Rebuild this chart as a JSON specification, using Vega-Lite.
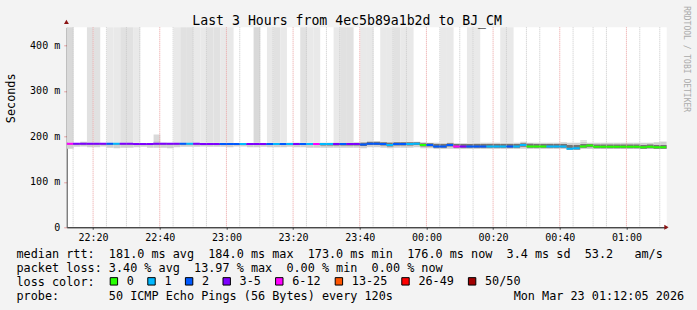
{
  "$schema": "https://vega.github.io/schema/vega-lite/v6.json",
  "width": 600,
  "height": 200,
  "autosize": {"type": "none"},
  "padding": {"left": 66.7, "top": 27.3, "right": 30.3, "bottom": 82.7},
  "background": "#f3f3f3",
  "config": {
    "view": {"fill": "#ffffff", "stroke": null},
    "font": "DejaVu Sans Mono"
  },
  "title": {
    "text": "Last 3 Hours from 4ec5b89a1b2d to BJ_CM",
    "anchor": "start",
    "frame": "group",
    "dx": 125.6,
    "dy": 32,
    "font": "DejaVu Sans Mono",
    "fontSize": 13.2,
    "fontWeight": "normal",
    "color": "#000000",
    "baseline": "alphabetic",
    "offset": 0
  },
  "data": {
    "values": [
      {"t":"2026-03-22 22:12","med":184,"loss":"6-12","lo":173,"hi":186,"ilo":182,"ihi":185,"max":1000,"tail":3},
      {"t":"2026-03-22 22:14","med":184,"loss":"3-5","lo":177,"hi":185,"ilo":182,"ihi":185,"max":185,"tail":0},
      {"t":"2026-03-22 22:16","med":184,"loss":"3-5","lo":178,"hi":188,"ilo":182,"ihi":185,"max":188,"tail":0},
      {"t":"2026-03-22 22:18","med":184,"loss":"3-5","lo":176,"hi":186,"ilo":182,"ihi":185,"max":1000,"tail":2},
      {"t":"2026-03-22 22:20","med":184,"loss":"3-5","lo":176,"hi":186,"ilo":182,"ihi":185,"max":1000,"tail":2},
      {"t":"2026-03-22 22:22","med":184,"loss":"3-5","lo":178,"hi":185,"ilo":182,"ihi":185,"max":185,"tail":0},
      {"t":"2026-03-22 22:24","med":184,"loss":"2","lo":175,"hi":186,"ilo":182,"ihi":185,"max":1000,"tail":1},
      {"t":"2026-03-22 22:26","med":184,"loss":"1","lo":174,"hi":186,"ilo":182,"ihi":185,"max":1000,"tail":1},
      {"t":"2026-03-22 22:28","med":184,"loss":"3-5","lo":175,"hi":186,"ilo":182,"ihi":185,"max":1000,"tail":2},
      {"t":"2026-03-22 22:30","med":184,"loss":"3-5","lo":175,"hi":186,"ilo":182,"ihi":185,"max":1000,"tail":2},
      {"t":"2026-03-22 22:32","med":183,"loss":"3-5","lo":176,"hi":186,"ilo":181,"ihi":184,"max":1000,"tail":1},
      {"t":"2026-03-22 22:34","med":183,"loss":"3-5","lo":177,"hi":185,"ilo":181,"ihi":184,"max":185,"tail":0},
      {"t":"2026-03-22 22:36","med":183,"loss":"3-5","lo":175,"hi":185,"ilo":181,"ihi":184,"max":185,"tail":0},
      {"t":"2026-03-22 22:38","med":184,"loss":"3-5","lo":175,"hi":190,"ilo":182,"ihi":185,"max":204,"tail":3},
      {"t":"2026-03-22 22:40","med":184,"loss":"3-5","lo":175,"hi":186,"ilo":182,"ihi":185,"max":186,"tail":0},
      {"t":"2026-03-22 22:42","med":184,"loss":"3-5","lo":174,"hi":185,"ilo":182,"ihi":185,"max":185,"tail":0},
      {"t":"2026-03-22 22:44","med":184,"loss":"3-5","lo":176,"hi":186,"ilo":182,"ihi":185,"max":1000,"tail":1},
      {"t":"2026-03-22 22:46","med":184,"loss":"2","lo":177,"hi":186,"ilo":182,"ihi":185,"max":1000,"tail":2},
      {"t":"2026-03-22 22:48","med":184,"loss":"1","lo":177,"hi":186,"ilo":182,"ihi":185,"max":1000,"tail":2},
      {"t":"2026-03-22 22:50","med":184,"loss":"3-5","lo":177,"hi":186,"ilo":182,"ihi":185,"max":1000,"tail":1},
      {"t":"2026-03-22 22:52","med":183,"loss":"3-5","lo":178,"hi":186,"ilo":181,"ihi":184,"max":1000,"tail":1},
      {"t":"2026-03-22 22:54","med":183,"loss":"3-5","lo":177,"hi":186,"ilo":181,"ihi":184,"max":1000,"tail":2},
      {"t":"2026-03-22 22:56","med":183,"loss":"3-5","lo":177,"hi":186,"ilo":181,"ihi":184,"max":1000,"tail":2},
      {"t":"2026-03-22 22:58","med":183,"loss":"2","lo":177,"hi":186,"ilo":181,"ihi":184,"max":1000,"tail":1},
      {"t":"2026-03-22 23:00","med":183,"loss":"2","lo":176,"hi":186,"ilo":181,"ihi":184,"max":1000,"tail":1},
      {"t":"2026-03-22 23:02","med":183,"loss":"2","lo":178,"hi":185,"ilo":181,"ihi":184,"max":185,"tail":0},
      {"t":"2026-03-22 23:04","med":183,"loss":"1","lo":178,"hi":185,"ilo":181,"ihi":184,"max":185,"tail":0},
      {"t":"2026-03-22 23:06","med":183,"loss":"3-5","lo":176,"hi":185,"ilo":181,"ihi":184,"max":185,"tail":0},
      {"t":"2026-03-22 23:08","med":183,"loss":"3-5","lo":176,"hi":186,"ilo":181,"ihi":184,"max":1000,"tail":3},
      {"t":"2026-03-22 23:10","med":183,"loss":"3-5","lo":177,"hi":185,"ilo":181,"ihi":184,"max":185,"tail":0},
      {"t":"2026-03-22 23:12","med":183,"loss":"2","lo":176,"hi":186,"ilo":181,"ihi":184,"max":1000,"tail":1},
      {"t":"2026-03-22 23:14","med":183,"loss":"1","lo":176,"hi":186,"ilo":181,"ihi":184,"max":1000,"tail":2},
      {"t":"2026-03-22 23:16","med":183,"loss":"2","lo":176,"hi":186,"ilo":181,"ihi":184,"max":1000,"tail":1},
      {"t":"2026-03-22 23:18","med":183,"loss":"1","lo":177,"hi":186,"ilo":181,"ihi":184,"max":186,"tail":0},
      {"t":"2026-03-22 23:20","med":183,"loss":"3-5","lo":176,"hi":186,"ilo":181,"ihi":184,"max":186,"tail":0},
      {"t":"2026-03-22 23:22","med":183,"loss":"2","lo":176,"hi":186,"ilo":181,"ihi":184,"max":1000,"tail":2},
      {"t":"2026-03-22 23:24","med":183,"loss":"1","lo":175,"hi":186,"ilo":181,"ihi":184,"max":1000,"tail":1},
      {"t":"2026-03-22 23:26","med":183,"loss":"6-12","lo":175,"hi":186,"ilo":181,"ihi":184,"max":1000,"tail":1},
      {"t":"2026-03-22 23:28","med":183,"loss":"1","lo":175,"hi":186,"ilo":180,"ihi":184,"max":186,"tail":0},
      {"t":"2026-03-22 23:30","med":183,"loss":"1","lo":175,"hi":186,"ilo":180,"ihi":184,"max":186,"tail":0},
      {"t":"2026-03-22 23:32","med":183,"loss":"3-5","lo":175,"hi":187,"ilo":180,"ihi":185,"max":1000,"tail":1},
      {"t":"2026-03-22 23:34","med":183,"loss":"2","lo":175,"hi":187,"ilo":180,"ihi":185,"max":1000,"tail":2},
      {"t":"2026-03-22 23:36","med":183,"loss":"3-5","lo":175,"hi":187,"ilo":180,"ihi":185,"max":1000,"tail":2},
      {"t":"2026-03-22 23:38","med":183,"loss":"3-5","lo":175,"hi":187,"ilo":180,"ihi":185,"max":187,"tail":0},
      {"t":"2026-03-22 23:40","med":182,"loss":"2","lo":174,"hi":188,"ilo":179,"ihi":186,"max":1000,"tail":1},
      {"t":"2026-03-22 23:42","med":184,"loss":"2","lo":176,"hi":189,"ilo":181,"ihi":188,"max":1000,"tail":1},
      {"t":"2026-03-22 23:44","med":184,"loss":"2","lo":176,"hi":189,"ilo":181,"ihi":188,"max":189,"tail":0},
      {"t":"2026-03-22 23:46","med":183,"loss":"2","lo":175,"hi":189,"ilo":180,"ihi":187,"max":1000,"tail":1},
      {"t":"2026-03-22 23:48","med":181,"loss":"1","lo":174,"hi":188,"ilo":178,"ihi":186,"max":1000,"tail":1},
      {"t":"2026-03-22 23:50","med":183,"loss":"2","lo":175,"hi":189,"ilo":180,"ihi":187,"max":1000,"tail":2},
      {"t":"2026-03-22 23:52","med":183,"loss":"2","lo":175,"hi":188,"ilo":180,"ihi":187,"max":1000,"tail":1},
      {"t":"2026-03-22 23:54","med":183,"loss":"1","lo":175,"hi":188,"ilo":180,"ihi":187,"max":1000,"tail":1},
      {"t":"2026-03-22 23:56","med":184,"loss":"1","lo":176,"hi":188,"ilo":181,"ihi":187,"max":188,"tail":0},
      {"t":"2026-03-22 23:58","med":181,"loss":"0","lo":174,"hi":187,"ilo":178,"ihi":185,"max":187,"tail":0},
      {"t":"2026-03-23 00:00","med":181,"loss":"2","lo":174,"hi":186,"ilo":178,"ihi":185,"max":186,"tail":0},
      {"t":"2026-03-23 00:02","med":178,"loss":"2","lo":172,"hi":186,"ilo":175,"ihi":183,"max":186,"tail":0},
      {"t":"2026-03-23 00:04","med":178,"loss":"2","lo":172,"hi":186,"ilo":175,"ihi":183,"max":1000,"tail":1},
      {"t":"2026-03-23 00:06","med":181,"loss":"2","lo":173,"hi":187,"ilo":178,"ihi":185,"max":1000,"tail":1},
      {"t":"2026-03-23 00:08","med":178,"loss":"6-12","lo":172,"hi":185,"ilo":175,"ihi":183,"max":185,"tail":0},
      {"t":"2026-03-23 00:10","med":178,"loss":"3-5","lo":172,"hi":185,"ilo":175,"ihi":183,"max":185,"tail":0},
      {"t":"2026-03-23 00:12","med":178,"loss":"2","lo":172,"hi":185,"ilo":175,"ihi":183,"max":1000,"tail":1},
      {"t":"2026-03-23 00:14","med":178,"loss":"2","lo":172,"hi":186,"ilo":175,"ihi":183,"max":1000,"tail":1},
      {"t":"2026-03-23 00:16","med":178,"loss":"2","lo":172,"hi":186,"ilo":175,"ihi":183,"max":186,"tail":0},
      {"t":"2026-03-23 00:18","med":178,"loss":"1","lo":172,"hi":186,"ilo":175,"ihi":183,"max":186,"tail":0},
      {"t":"2026-03-23 00:20","med":178,"loss":"1","lo":172,"hi":186,"ilo":175,"ihi":183,"max":186,"tail":0},
      {"t":"2026-03-23 00:22","med":178,"loss":"1","lo":172,"hi":186,"ilo":175,"ihi":183,"max":1000,"tail":1},
      {"t":"2026-03-23 00:24","med":178,"loss":"2","lo":172,"hi":186,"ilo":175,"ihi":183,"max":1000,"tail":1},
      {"t":"2026-03-23 00:26","med":178,"loss":"1","lo":172,"hi":186,"ilo":175,"ihi":183,"max":186,"tail":0},
      {"t":"2026-03-23 00:28","med":181,"loss":"1","lo":173,"hi":188,"ilo":177,"ihi":185,"max":188,"tail":0},
      {"t":"2026-03-23 00:30","med":178,"loss":"0","lo":172,"hi":186,"ilo":175,"ihi":184,"max":186,"tail":0},
      {"t":"2026-03-23 00:32","med":178,"loss":"0","lo":172,"hi":186,"ilo":175,"ihi":183,"max":186,"tail":0},
      {"t":"2026-03-23 00:34","med":178,"loss":"0","lo":172,"hi":186,"ilo":175,"ihi":183,"max":186,"tail":0},
      {"t":"2026-03-23 00:36","med":178,"loss":"1","lo":172,"hi":186,"ilo":175,"ihi":183,"max":186,"tail":0},
      {"t":"2026-03-23 00:38","med":178,"loss":"1","lo":172,"hi":186,"ilo":175,"ihi":183,"max":186,"tail":0},
      {"t":"2026-03-23 00:40","med":178,"loss":"1","lo":172,"hi":187,"ilo":175,"ihi":183,"max":187,"tail":0},
      {"t":"2026-03-23 00:42","med":173,"loss":"1","lo":170,"hi":186,"ilo":171,"ihi":181,"max":186,"tail":0},
      {"t":"2026-03-23 00:44","med":174,"loss":"1","lo":170,"hi":186,"ilo":171,"ihi":181,"max":186,"tail":0},
      {"t":"2026-03-23 00:46","med":178,"loss":"0","lo":172,"hi":188,"ilo":175,"ihi":183,"max":192,"tail":2},
      {"t":"2026-03-23 00:48","med":180,"loss":"0","lo":172,"hi":186,"ilo":176,"ihi":183,"max":186,"tail":0},
      {"t":"2026-03-23 00:50","med":177,"loss":"0","lo":172,"hi":186,"ilo":174,"ihi":182,"max":186,"tail":0},
      {"t":"2026-03-23 00:52","med":177,"loss":"0","lo":172,"hi":186,"ilo":174,"ihi":182,"max":186,"tail":0},
      {"t":"2026-03-23 00:54","med":177,"loss":"0","lo":172,"hi":186,"ilo":174,"ihi":182,"max":186,"tail":0},
      {"t":"2026-03-23 00:56","med":177,"loss":"0","lo":172,"hi":186,"ilo":174,"ihi":182,"max":186,"tail":0},
      {"t":"2026-03-23 00:58","med":177,"loss":"0","lo":172,"hi":186,"ilo":174,"ihi":182,"max":186,"tail":0},
      {"t":"2026-03-23 01:00","med":177,"loss":"0","lo":172,"hi":186,"ilo":174,"ihi":182,"max":186,"tail":0},
      {"t":"2026-03-23 01:02","med":177,"loss":"0","lo":172,"hi":186,"ilo":174,"ihi":182,"max":186,"tail":0},
      {"t":"2026-03-23 01:04","med":176,"loss":"0","lo":172,"hi":186,"ilo":173,"ihi":181,"max":186,"tail":0},
      {"t":"2026-03-23 01:06","med":177,"loss":"0","lo":172,"hi":186,"ilo":174,"ihi":182,"max":186,"tail":0},
      {"t":"2026-03-23 01:08","med":176,"loss":"0","lo":172,"hi":187,"ilo":173,"ihi":181,"max":187,"tail":0},
      {"t":"2026-03-23 01:10","med":176,"loss":"0","lo":172,"hi":188,"ilo":173,"ihi":181,"max":190,"tail":1}
    ],
    "format": {"parse": {"t": "utc:'%Y-%m-%d %H:%M'"}}
  },
  "encoding": {
    "x": {
      "field": "t",
      "type": "temporal",
      "timeUnit": {"unit": "utcyearmonthdatehoursminutes", "step": 2},
      "scale": {
        "type": "utc",
        "domain": [
          {"year": 2026, "month": 3, "date": 22, "hours": 22, "minutes": 12, "seconds": 5, "utc": true},
          {"year": 2026, "month": 3, "date": 23, "hours": 1, "minutes": 12, "seconds": 5, "utc": true}
        ]
      },
      "axis": {
        "values": [
          {"year": 2026, "month": 3, "date": 22, "hours": 22, "minutes": 20, "utc": true},
          {"year": 2026, "month": 3, "date": 22, "hours": 22, "minutes": 40, "utc": true},
          {"year": 2026, "month": 3, "date": 22, "hours": 23, "minutes": 0, "utc": true},
          {"year": 2026, "month": 3, "date": 22, "hours": 23, "minutes": 20, "utc": true},
          {"year": 2026, "month": 3, "date": 22, "hours": 23, "minutes": 40, "utc": true},
          {"year": 2026, "month": 3, "date": 23, "hours": 0, "minutes": 0, "utc": true},
          {"year": 2026, "month": 3, "date": 23, "hours": 0, "minutes": 20, "utc": true},
          {"year": 2026, "month": 3, "date": 23, "hours": 0, "minutes": 40, "utc": true},
          {"year": 2026, "month": 3, "date": 23, "hours": 1, "minutes": 0, "utc": true}
        ],
        "labelExpr": "utcFormat(datum.value, '%H:%M')",
        "labelOverlap": false,
        "labelFlush": false,
        "labelFont": "DejaVu Sans Mono",
        "labelFontSize": 10,
        "labelColor": "#000000",
        "labelPadding": 3,
        "tickSize": 2,
        "tickColor": "#555555",
        "domainColor": "#000000",
        "grid": false,
        "title": [
          "median\u00a0rtt:\u00a0\u00a0181.0\u00a0ms\u00a0avg\u00a0\u00a0184.0\u00a0ms\u00a0max\u00a0\u00a0173.0\u00a0ms\u00a0min\u00a0\u00a0176.0\u00a0ms\u00a0now\u00a0\u00a03.4\u00a0ms\u00a0sd\u00a0\u00a053.2\u00a0\u00a0\u00a0am/s",
          "packet\u00a0loss:\u00a03.40\u00a0%\u00a0avg\u00a0\u00a013.97\u00a0%\u00a0max\u00a0\u00a00.00\u00a0%\u00a0min\u00a0\u00a00.00\u00a0%\u00a0now",
          "loss\u00a0color:",
          "probe:\u00a0\u00a0\u00a0\u00a0\u00a0\u00a0\u00a050\u00a0ICMP\u00a0Echo\u00a0Pings\u00a0(56\u00a0Bytes)\u00a0every\u00a0120s\u00a0\u00a0\u00a0\u00a0\u00a0\u00a0\u00a0\u00a0\u00a0\u00a0\u00a0\u00a0\u00a0\u00a0\u00a0\u00a0\u00a0Mon\u00a0Mar\u00a023\u00a001:12:05\u00a02026"
        ],
        "titleFont": "DejaVu Sans Mono",
        "titleFontSize": 11.8,
        "titleFontWeight": "normal",
        "titleColor": "#000000",
        "titleAlign": "left",
        "titleBaseline": "top",
        "titleLineHeight": 14,
        "titleX": -50.7,
        "titleY": 21.5
      }
    }
  },
  "layer": [
    {
      "mark": {"type": "rect", "color": "#d0d0d0", "clip": true},
      "encoding": {
        "y": {
          "field": "lo",
          "type": "quantitative",
          "scale": {"domain": [0, 440], "nice": false, "zero": true},
          "axis": {
            "values": [0, 100, 200, 300, 400],
            "labelExpr": "datum.value === 0 ? '0\u00a0\u00a0' : datum.value + ' m'",
            "labelOverlap": false,
            "labelFlush": false,
            "labelFont": "DejaVu Sans Mono",
            "labelFontSize": 10,
            "labelColor": "#000000",
            "labelPadding": 4,
            "tickSize": 3,
            "tickColor": "#e6a0a0",
            "domainColor": "#444444",
            "grid": false,
            "title": "Seconds",
            "titleFont": "DejaVu Sans Mono",
            "titleFontSize": 11.8,
            "titleFontWeight": "normal",
            "titleColor": "#000000",
            "titleAngle": 270,
            "titleAlign": "center",
            "titleBaseline": "middle",
            "titleX": -55.7,
            "titleY": 70.5
          }
        },
        "y2": {"field": "hi"}
      }
    },
    {
      "mark": {"type": "rect", "clip": true},
      "encoding": {
        "y": {"field": "hi", "type": "quantitative"},
        "y2": {"field": "max"},
        "fill": {
          "field": "tail",
          "type": "ordinal",
          "scale": {"domain": [0, 1, 2, 3], "range": ["#e6e6e6", "#e9e9e9", "#e1e1e1", "#d9d9d9"]},
          "legend": null
        }
      }
    },
    {
      "mark": {"type": "rect", "color": "#747474", "clip": true},
      "encoding": {
        "y": {"field": "ilo", "type": "quantitative"},
        "y2": {"field": "ihi"}
      }
    },
    {
      "data": {
        "values": [
          {"g": "2026-03-22 22:15"}, {"g": "2026-03-22 22:25"}, {"g": "2026-03-22 22:30"}, {"g": "2026-03-22 22:35"},
          {"g": "2026-03-22 22:45"}, {"g": "2026-03-22 22:50"}, {"g": "2026-03-22 22:55"},
          {"g": "2026-03-22 23:05"}, {"g": "2026-03-22 23:10"}, {"g": "2026-03-22 23:15"},
          {"g": "2026-03-22 23:25"}, {"g": "2026-03-22 23:30"}, {"g": "2026-03-22 23:35"},
          {"g": "2026-03-22 23:45"}, {"g": "2026-03-22 23:50"}, {"g": "2026-03-22 23:55"},
          {"g": "2026-03-23 00:05"}, {"g": "2026-03-23 00:10"}, {"g": "2026-03-23 00:15"},
          {"g": "2026-03-23 00:25"}, {"g": "2026-03-23 00:30"}, {"g": "2026-03-23 00:35"},
          {"g": "2026-03-23 00:45"}, {"g": "2026-03-23 00:50"}, {"g": "2026-03-23 00:55"},
          {"g": "2026-03-23 01:05"}, {"g": "2026-03-23 01:10"}
        ],
        "format": {"parse": {"g": "utc:'%Y-%m-%d %H:%M'"}}
      },
      "mark": {"type": "rule", "color": "#c8c8c8", "strokeWidth": 1, "strokeDash": [1, 1]},
      "encoding": {
        "x": {"field": "g", "type": "temporal", "scale": {"type": "utc"}}
      }
    },
    {
      "data": {
        "values": [
          {"v": 20}, {"v": 40}, {"v": 60}, {"v": 80}, {"v": 120}, {"v": 140}, {"v": 160}, {"v": 180},
          {"v": 220}, {"v": 240}, {"v": 260}, {"v": 280}, {"v": 320}, {"v": 340}, {"v": 360}, {"v": 380},
          {"v": 420}, {"v": 440}
        ]
      },
      "mark": {"type": "rule", "color": "#c8c8c8", "strokeWidth": 1, "strokeDash": [1, 1]},
      "encoding": {
        "y": {"field": "v", "type": "quantitative"}
      }
    },
    {
      "data": {
        "values": [
          {"g": "2026-03-22 22:20"}, {"g": "2026-03-22 22:40"}, {"g": "2026-03-22 23:00"},
          {"g": "2026-03-22 23:20"}, {"g": "2026-03-22 23:40"}, {"g": "2026-03-23 00:00"},
          {"g": "2026-03-23 00:20"}, {"g": "2026-03-23 00:40"}, {"g": "2026-03-23 01:00"}
        ],
        "format": {"parse": {"g": "utc:'%Y-%m-%d %H:%M'"}}
      },
      "mark": {"type": "rule", "color": "#eaa0a0", "strokeWidth": 1, "strokeDash": [1, 1]},
      "encoding": {
        "x": {"field": "g", "type": "temporal", "scale": {"type": "utc"}}
      }
    },
    {
      "data": {"values": [{"v": 100}, {"v": 200}, {"v": 300}, {"v": 400}]},
      "mark": {"type": "rule", "color": "#eaa0a0", "strokeWidth": 1, "strokeDash": [1, 1]},
      "encoding": {
        "y": {"field": "v", "type": "quantitative"}
      }
    },
    {
      "mark": {"type": "tick", "orient": "horizontal", "size": 6.67, "thickness": 2, "opacity": 1, "timeUnitBandPosition": 0.5, "clip": true},
      "encoding": {
        "y": {"field": "med", "type": "quantitative"},
        "color": {
          "field": "loss",
          "type": "nominal",
          "scale": {
            "domain": ["0", "1", "2", "3-5", "6-12", "13-25", "26-49", "50/50"],
            "range": ["#26ff00", "#00b8ff", "#0059ff", "#7e00ff", "#ff00ff", "#ff5500", "#ff0000", "#a10000"]
          },
          "legend": {
            "title": null,
            "orient": "none",
            "legendX": 41.3,
            "legendY": 248,
            "direction": "horizontal",
            "symbolType": "square",
            "symbolSize": 55,
            "symbolStrokeColor": "#000000",
            "symbolStrokeWidth": 1,
            "symbolOpacity": 1,
            "labelFont": "DejaVu Sans Mono",
            "labelFontSize": 11.8,
            "labelColor": "#000000",
            "labelOffset": 7,
            "columnPadding": 11.6,
            "padding": 0
          }
        }
      }
    },
    {
      "data": {
        "values": [
          {"at": "2026-03-22 22:12:05", "v": 452, "dir": "up"},
          {"at": "2026-03-23 01:12:50", "v": 0, "dir": "right"}
        ],
        "format": {"parse": {"at": "utc:'%Y-%m-%d %H:%M:%S'"}}
      },
      "mark": {"type": "point", "filled": true, "size": 24, "color": "#8b1414", "opacity": 1},
      "encoding": {
        "x": {"field": "at", "type": "temporal", "scale": {"type": "utc"}},
        "y": {"field": "v", "type": "quantitative"},
        "shape": {
          "field": "dir",
          "type": "nominal",
          "scale": {"domain": ["up", "right"], "range": ["triangle-up", "triangle-right"]},
          "legend": null
        }
      }
    },
    {
      "data": {
        "values": [
          {"at": "2026-03-23 01:18:30", "v": 370, "label": "RRDTOOL / TOBI OETIKER"}
        ],
        "format": {"parse": {"at": "utc:'%Y-%m-%d %H:%M:%S'"}}
      },
      "mark": {"type": "text", "angle": 90, "align": "center", "baseline": "middle", "font": "DejaVu Sans Mono", "fontSize": 8, "color": "#aaaaaa"},
      "encoding": {
        "x": {"field": "at", "type": "temporal", "scale": {"type": "utc"}},
        "y": {"field": "v", "type": "quantitative"},
        "text": {"field": "label"}
      }
    }
  ]
}
